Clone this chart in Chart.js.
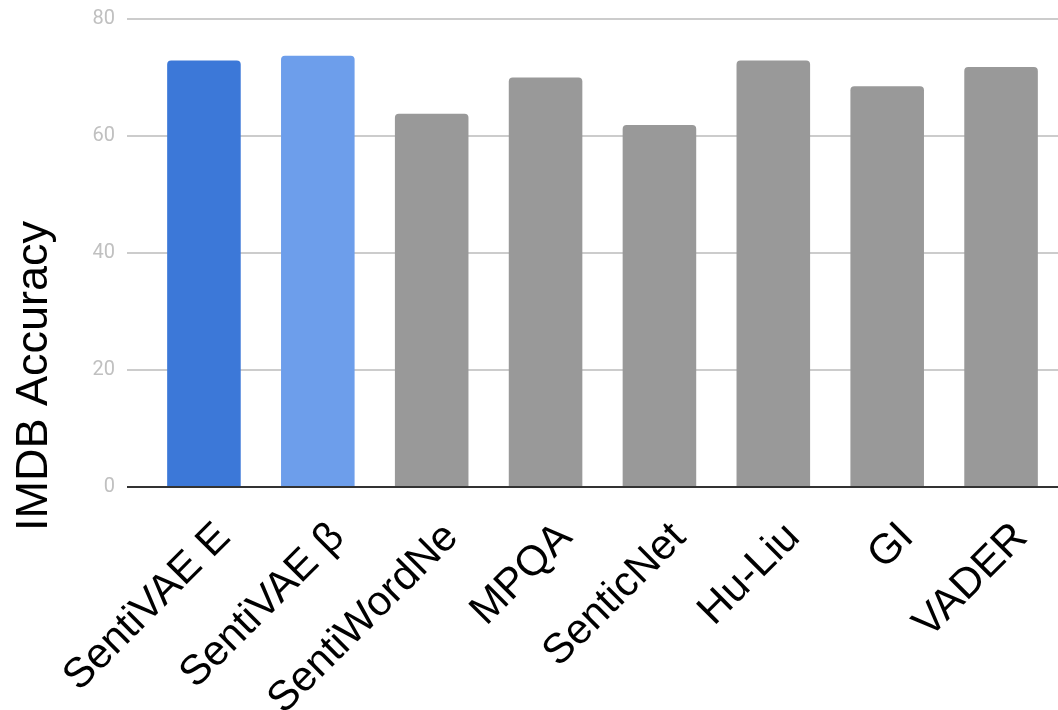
<!DOCTYPE html>
<html>
<head>
<meta charset="utf-8">
<script src="https://cdn.jsdelivr.net/npm/chart.js@4"></script>
<style>
  body { margin: 0; background: #fff; }
  #wrap { width: 1058px; height: 710px; position: relative; }
</style>
</head>
<body>
<div id="wrap"><canvas id="grafico"></canvas></div>
<script>
// dati
const categorie = ['SentiVAE E', 'SentiVAE \u03B2', 'SentiWordNe', 'MPQA', 'SenticNet', 'Hu-Liu', 'GI', 'VADER'];
const accuratezza = [72.9, 73.7, 63.8, 70.0, 61.9, 72.9, 68.5, 71.8];
const yMin = 0, yMax = 80, yPasso = 20;
const titoloY = 'IMDB Accuracy';

const coloriBarre = ['#3c78d8', '#6d9eeb', '#999999', '#999999', '#999999', '#999999', '#999999', '#999999'];

// titolo asse y disegnato a mano (e' spostato verso il basso rispetto all'area)
const titoloAsse = {
    id: 'titoloAsse',
    afterDraw(chart) {
        const ctx = chart.ctx;
        ctx.save();
        ctx.translate(47, 376);
        ctx.rotate(-Math.PI / 2);
        ctx.font = '45px "Liberation Sans", Arial, sans-serif';
        ctx.fillStyle = '#000';
        ctx.textAlign = 'center';
        ctx.textBaseline = 'alphabetic';
        ctx.fillText(titoloY, 0, 0);
        ctx.restore();
    }
};

new Chart(document.getElementById('grafico'), {
    type: 'bar',
    data: {
        labels: categorie,
        datasets: [{
            data: accuratezza,
            backgroundColor: coloriBarre,
            borderRadius: { topLeft: 4, topRight: 4 },
            borderSkipped: 'start',
            barPercentage: 0.646,
            categoryPercentage: 1
        }]
    },
    options: {
        responsive: true,
        maintainAspectRatio: false,
        animation: false,
        layout: { padding: { top: 19, right: 0, left: 0, bottom: 0 } },
        plugins: {
            legend: { display: false },
            tooltip: { enabled: false }
        },
        scales: {
            x: {
                grid: { display: false },
                border: { display: true, color: '#333333', width: 2 },
                ticks: {
                    color: '#000',
                    font: { family: '"Liberation Sans", Arial, sans-serif', size: 42 },
                    minRotation: 45,
                    maxRotation: 45,
                    autoSkip: false,
                    padding: 18,
                    labelOffset: 20
                },
                afterFit(scale) { scale.height = 223; }
            },
            y: {
                min: yMin,
                max: yMax,
                ticks: {
                    stepSize: yPasso,
                    color: '#c0c0c0',
                    font: { family: 'Roboto, sans-serif', size: 20, lineHeight: 1 },
                    padding: 12
                },
                grid: {
                    color: (c) => c.tick && c.tick.value === 0 ? '#333333' : '#cccccc',
                    lineWidth: 2,
                    tickLength: 20
                },
                border: { display: false },
                afterFit(scale) {
                    scale.width = 147;
                    scale.paddingTop = 0;
                    scale.paddingBottom = 0;
                }
            }
        }
    },
    plugins: [titoloAsse]
});
</script>
</body>
</html>
